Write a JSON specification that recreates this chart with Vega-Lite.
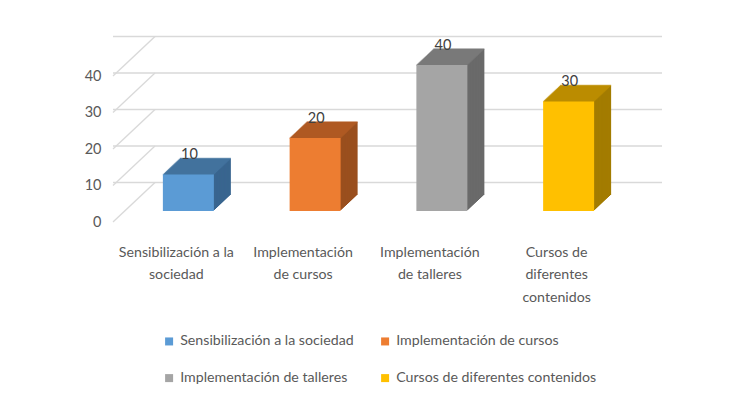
{
  "$schema": "https://vega.github.io/schema/vega-lite/v6.json",
  "width": 507,
  "height": 146,
  "autosize": {"type": "none"},
  "padding": {"left": 113, "top": 76, "right": 113, "bottom": 181},
  "background": "white",
  "config": {
    "view": {"stroke": null},
    "font": "Lato",
    "axisY": {"domain": false, "ticks": false, "grid": false, "labelFontSize": 14.5, "labelColor": "#595959", "labelPadding": 12, "tickCount": 5},
    "axisX": {"domain": false, "ticks": false, "grid": false, "labelFontSize": 14.2, "labelColor": "#595959", "labelPadding": 23, "labelAngle": 0, "labelLineHeight": 22.5, "labelBaseline": "top"}
  },
  "datasets": {
    "bars": [
      {"cat": "Sensibilización a la sociedad", "value": 10},
      {"cat": "Implementación de cursos", "value": 20},
      {"cat": "Implementación de talleres", "value": 40},
      {"cat": "Cursos de diferentes contenidos", "value": 30}
    ],
    "grid": [{"v": 0}, {"v": 10}, {"v": 20}, {"v": 30}, {"v": 40}]
  },
  "data": {"name": "bars"},
  "resolve": {"scale": {"color": "independent"}},
  "layer": [
    {
      "data": {"name": "grid"},
      "mark": {"type": "rule", "color": "#D9D9D9", "strokeWidth": 1.3, "xOffset": 42, "x2Offset": 42, "yOffset": -39.5},
      "encoding": {"y": {"field": "v", "type": "quantitative", "title": null, "scale": {"domain": [0, 40], "nice": false}}}
    },
    {
      "data": {"name": "grid"},
      "mark": {"type": "rule", "color": "#D9D9D9", "strokeWidth": 1.3, "x2Offset": -21.4, "y2Offset": -39.5},
      "encoding": {
        "y": {"field": "v", "type": "quantitative", "title": null},
        "y2": {"field": "v"},
        "x": {"datum": "Sensibilización a la sociedad", "type": "nominal", "bandPosition": 0, "title": null},
        "x2": {"datum": "Sensibilización a la sociedad"}
      }
    },
    {
      "encoding": {
        "x": {"field": "cat", "type": "nominal", "title": null},
        "y": {"field": "value", "type": "quantitative", "title": null, "stack": null},
        "y2": {"datum": 0},
        "color": {"field": "cat", "type": "nominal", "legend": null,
          "scale": {"domain": ["Sensibilización a la sociedad", "Implementación de cursos", "Implementación de talleres", "Cursos de diferentes contenidos"], "range": ["#39658F", "#9A4F1E", "#6A6A6A", "#A37C00"]}}
      },
      "layer": [
        {"mark": {"type": "bar", "width": 51, "xOffset": 29, "yOffset": -27, "y2Offset": -27}},
        {"mark": {"type": "bar", "width": 51, "xOffset": 27.94, "yOffset": -26, "y2Offset": -26}},
        {"mark": {"type": "bar", "width": 51, "xOffset": 26.88, "yOffset": -25, "y2Offset": -25}},
        {"mark": {"type": "bar", "width": 51, "xOffset": 25.81, "yOffset": -24, "y2Offset": -24}},
        {"mark": {"type": "bar", "width": 51, "xOffset": 24.75, "yOffset": -23, "y2Offset": -23}},
        {"mark": {"type": "bar", "width": 51, "xOffset": 23.69, "yOffset": -22, "y2Offset": -22}},
        {"mark": {"type": "bar", "width": 51, "xOffset": 22.63, "yOffset": -21, "y2Offset": -21}},
        {"mark": {"type": "bar", "width": 51, "xOffset": 21.56, "yOffset": -20, "y2Offset": -20}},
        {"mark": {"type": "bar", "width": 51, "xOffset": 20.5, "yOffset": -19, "y2Offset": -19}},
        {"mark": {"type": "bar", "width": 51, "xOffset": 19.44, "yOffset": -18, "y2Offset": -18}},
        {"mark": {"type": "bar", "width": 51, "xOffset": 18.38, "yOffset": -17, "y2Offset": -17}},
        {"mark": {"type": "bar", "width": 51, "xOffset": 17.31, "yOffset": -16, "y2Offset": -16}},
        {"mark": {"type": "bar", "width": 51, "xOffset": 16.25, "yOffset": -15, "y2Offset": -15}},
        {"mark": {"type": "bar", "width": 51, "xOffset": 15.19, "yOffset": -14, "y2Offset": -14}},
        {"mark": {"type": "bar", "width": 51, "xOffset": 14.13, "yOffset": -13, "y2Offset": -13}},
        {"mark": {"type": "bar", "width": 51, "xOffset": 13.06, "yOffset": -12, "y2Offset": -12}}
      ]
    },
    {
      "encoding": {
        "x": {"field": "cat", "type": "nominal", "title": null},
        "y": {"field": "value", "type": "quantitative", "title": null},
        "color": {"field": "cat", "type": "nominal", "legend": null,
          "scale": {"domain": ["Sensibilización a la sociedad", "Implementación de cursos", "Implementación de talleres", "Cursos de diferentes contenidos"], "range": ["#4676A3", "#B55E25", "#7E7E7E", "#C29200"]}}
      },
      "layer": [
        {"mark": {"type": "tick", "orient": "horizontal", "size": 51, "thickness": 1.6, "xOffset": 29, "yOffset": -27}},
        {"mark": {"type": "tick", "orient": "horizontal", "size": 51, "thickness": 1.6, "xOffset": 27.94, "yOffset": -26}},
        {"mark": {"type": "tick", "orient": "horizontal", "size": 51, "thickness": 1.6, "xOffset": 26.88, "yOffset": -25}},
        {"mark": {"type": "tick", "orient": "horizontal", "size": 51, "thickness": 1.6, "xOffset": 25.81, "yOffset": -24}},
        {"mark": {"type": "tick", "orient": "horizontal", "size": 51, "thickness": 1.6, "xOffset": 24.75, "yOffset": -23}},
        {"mark": {"type": "tick", "orient": "horizontal", "size": 51, "thickness": 1.6, "xOffset": 23.69, "yOffset": -22}},
        {"mark": {"type": "tick", "orient": "horizontal", "size": 51, "thickness": 1.6, "xOffset": 22.63, "yOffset": -21}},
        {"mark": {"type": "tick", "orient": "horizontal", "size": 51, "thickness": 1.6, "xOffset": 21.56, "yOffset": -20}},
        {"mark": {"type": "tick", "orient": "horizontal", "size": 51, "thickness": 1.6, "xOffset": 20.5, "yOffset": -19}},
        {"mark": {"type": "tick", "orient": "horizontal", "size": 51, "thickness": 1.6, "xOffset": 19.44, "yOffset": -18}},
        {"mark": {"type": "tick", "orient": "horizontal", "size": 51, "thickness": 1.6, "xOffset": 18.38, "yOffset": -17}},
        {"mark": {"type": "tick", "orient": "horizontal", "size": 51, "thickness": 1.6, "xOffset": 17.31, "yOffset": -16}},
        {"mark": {"type": "tick", "orient": "horizontal", "size": 51, "thickness": 1.6, "xOffset": 16.25, "yOffset": -15}},
        {"mark": {"type": "tick", "orient": "horizontal", "size": 51, "thickness": 1.6, "xOffset": 15.19, "yOffset": -14}},
        {"mark": {"type": "tick", "orient": "horizontal", "size": 51, "thickness": 1.6, "xOffset": 14.13, "yOffset": -13}},
        {"mark": {"type": "tick", "orient": "horizontal", "size": 51, "thickness": 1.6, "xOffset": 13.06, "yOffset": -12}},
        {"mark": {"type": "tick", "orient": "horizontal", "size": 51, "thickness": 1.6, "xOffset": 12, "yOffset": -11}}
      ]
    },
    {
      "mark": {"type": "bar", "width": 51, "xOffset": 12, "yOffset": -11, "y2Offset": -11},
      "encoding": {
        "x": {"field": "cat", "type": "nominal", "title": null,
          "scale": {"domain": ["Sensibilización a la sociedad", "Implementación de cursos", "Implementación de talleres", "Cursos de diferentes contenidos"], "paddingInner": 0, "paddingOuter": 0},
          "axis": {"labelExpr": "datum.value == 'Sensibilización a la sociedad' ? ['Sensibilización a la', 'sociedad'] : datum.value == 'Implementación de cursos' ? ['Implementación', 'de cursos'] : datum.value == 'Implementación de talleres' ? ['Implementación', 'de talleres'] : ['Cursos de', 'diferentes', 'contenidos']"}},
        "y": {"field": "value", "type": "quantitative", "title": null, "stack": null},
        "y2": {"datum": 0},
        "color": {"field": "cat", "type": "nominal",
          "scale": {"domain": ["Sensibilización a la sociedad", "Implementación de cursos", "Implementación de talleres", "Cursos de diferentes contenidos"], "range": ["#5B9BD5", "#ED7D31", "#A5A5A5", "#FFC000"]},
          "legend": {"orient": "none", "direction": "horizontal", "legendX": 49, "legendY": 258, "columns": 2, "title": null, "symbolType": "square", "symbolSize": 64, "symbolStrokeWidth": 0, "labelFontSize": 14.2, "labelColor": "#595959", "rowPadding": 22, "columnPadding": 24, "padding": 0, "labelLimit": 400, "labelOffset": 4}}
      }
    },
    {
      "mark": {"type": "text", "fontSize": 14.5, "color": "#404040", "baseline": "middle", "xOffset": 13, "yOffset": -30.5},
      "encoding": {
        "x": {"field": "cat", "type": "nominal", "title": null},
        "y": {"field": "value", "type": "quantitative", "title": null},
        "text": {"field": "value", "type": "quantitative"}
      }
    }
  ]
}
